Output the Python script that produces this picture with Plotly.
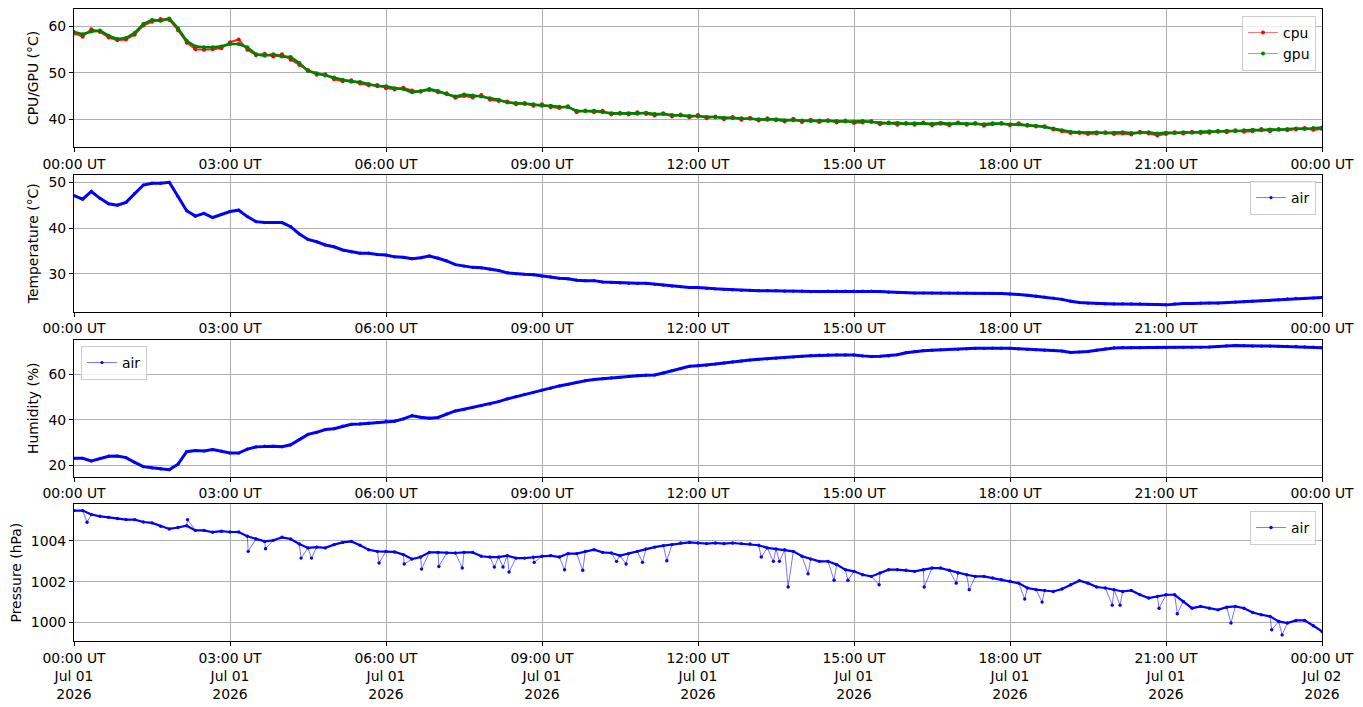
import pandas as pd
import plotly.graph_objects as go
from plotly.subplots import make_subplots

# --- data: 10-minute samples from 2026-07-01 00:00 UT to 2026-07-02 00:00 UT ---
START = "2026-07-01 00:00"
N_SAMPLES = 145

cpu_temp = [
    58.5, 57.8, 59.4, 58.8, 57.6, 57.0,
    57.2, 58.2, 60.2, 61.0, 61.6, 61.4,
    59.2, 56.5, 55.1, 55.0, 55.1, 55.3,
    56.6, 57.2, 55.0, 53.8, 54.1, 53.5,
    54.0, 52.8, 51.7, 50.6, 49.6, 49.7,
    48.6, 48.2, 48.4, 47.7, 47.3, 47.4,
    46.7, 46.4, 46.8, 46.2, 45.9, 46.3,
    45.8, 45.6, 44.6, 45.0, 44.7, 45.2,
    44.2, 43.9, 43.8, 43.2, 43.5, 42.9,
    43.2, 42.6, 42.4, 42.8, 41.5, 41.9,
    41.5, 41.8, 41.0, 41.4, 41.0, 41.5,
    41.1, 40.8, 41.3, 40.6, 41.0, 40.4,
    40.9, 40.2, 40.6, 40.0, 40.5, 39.9,
    40.3, 39.7, 40.2, 39.8, 39.5, 40.1,
    39.4, 39.9, 39.4, 39.8, 39.3, 39.7,
    39.2, 39.3, 39.6, 38.9, 39.3, 38.8,
    39.2, 38.8, 39.3, 38.7, 39.0, 38.7,
    39.3, 38.8, 39.2, 38.6, 38.9, 39.2,
    38.7, 39.1, 38.6, 38.4, 38.5, 37.8,
    37.4, 37.0, 37.0, 36.8, 36.9, 37.2,
    36.8, 36.9, 36.7, 37.3, 36.9, 36.5,
    36.8, 37.2, 36.9, 37.3, 37.0, 37.1,
    37.5, 37.2, 37.6, 37.3, 37.4, 37.9,
    37.4, 37.9, 37.6, 37.8, 38.1, 37.7,
    37.9,
]

gpu_temp = [
    58.8, 58.3, 58.9, 59.1, 58.0, 57.3,
    57.5, 58.6, 60.5, 61.4, 61.2, 61.7,
    59.6, 56.9, 55.7, 55.5, 55.5, 55.7,
    56.2, 56.2, 55.5, 54.0, 53.7, 54.0,
    53.5, 53.4, 52.1, 50.4, 49.9, 49.4,
    49.0, 48.5, 48.1, 48.0, 47.6, 47.1,
    47.1, 46.7, 46.5, 45.8, 46.1, 46.5,
    46.1, 45.4, 44.9, 45.3, 45.1, 44.9,
    44.5, 44.2, 43.6, 43.5, 43.3, 43.2,
    42.9, 42.9, 42.7, 42.6, 41.8, 41.7,
    41.8, 41.5, 41.3, 41.2, 41.3, 41.2,
    41.4, 41.1, 41.1, 40.9, 40.8, 40.7,
    40.6, 40.5, 40.4, 40.3, 40.2, 40.2,
    40.1, 40.0, 39.9, 40.0, 39.8, 39.8,
    39.7, 39.6, 39.7, 39.6, 39.6, 39.5,
    39.5, 39.6, 39.4, 39.2, 39.1, 39.2,
    39.0, 39.1, 39.1, 39.0, 39.2, 39.0,
    39.1, 39.0, 39.0, 38.9, 39.1, 39.0,
    38.9, 38.9, 38.8, 38.6, 38.3, 38.0,
    37.6, 37.3, 37.2, 37.1, 37.2, 37.0,
    37.1, 37.2, 37.0, 37.1, 37.2, 36.9,
    37.1, 37.0, 37.2, 37.1, 37.3, 37.4,
    37.3, 37.5, 37.4, 37.6, 37.7, 37.6,
    37.8, 37.7, 37.9, 38.0, 37.9, 38.1,
    38.2,
]

air_temp = [
    47.1, 46.3, 48.0, 46.5, 45.3, 45.0,
    45.6, 47.6, 49.4, 49.8, 49.8, 50.0,
    46.9, 43.8, 42.6, 43.2, 42.3, 43.0,
    43.6, 43.9, 42.5, 41.4, 41.2, 41.2,
    41.2, 40.3, 38.7, 37.5, 37.0, 36.3,
    35.9, 35.2, 34.8, 34.5, 34.5, 34.2,
    34.1, 33.7, 33.6, 33.3, 33.5, 33.9,
    33.4, 32.8, 32.0, 31.7, 31.4, 31.3,
    31.0, 30.7, 30.2, 30.0, 29.9, 29.8,
    29.5, 29.3, 29.0, 28.9, 28.6, 28.5,
    28.5, 28.2, 28.1, 28.0, 27.9, 27.9,
    27.9, 27.7, 27.5, 27.3, 27.2, 27.0,
    27.0, 26.8, 26.7, 26.6, 26.5, 26.4,
    26.4, 26.3, 26.3, 26.3, 26.2, 26.2,
    26.2, 26.1, 26.1, 26.2, 26.2, 26.2,
    26.2, 26.2, 26.2, 26.1, 26.0, 25.9,
    25.9, 25.8, 25.8, 25.8, 25.8, 25.8,
    25.8, 25.8, 25.7, 25.7, 25.7, 25.7,
    25.6, 25.5, 25.3, 25.1, 24.9, 24.7,
    24.4, 24.0, 23.7, 23.6, 23.5, 23.4,
    23.4, 23.4, 23.4, 23.4, 23.3, 23.3,
    23.2, 23.4, 23.5, 23.5, 23.6, 23.6,
    23.6, 23.7, 23.8, 23.9, 24.0, 24.1,
    24.2, 24.3, 24.5, 24.6, 24.6, 24.7,
    24.8,
]

air_humidity = [
    23.1, 23.1, 21.9, 23.1, 24.0, 24.1,
    23.4, 21.3, 19.4, 18.9, 18.4, 18.1,
    20.5, 26.0, 26.5, 26.3, 26.9, 26.3,
    25.4, 25.4, 27.1, 28.1, 28.4, 28.4,
    28.2, 29.0, 31.3, 33.6, 34.5, 35.7,
    36.1, 37.2, 38.0, 38.2, 38.5, 38.8,
    39.4, 39.4, 40.4, 41.8, 41.1, 40.7,
    41.0, 42.6, 43.9, 44.6, 45.4, 46.2,
    47.0, 48.0, 49.2, 50.2, 51.2, 52.1,
    53.1, 53.9, 54.9, 55.6, 56.5, 57.2,
    57.7, 58.1, 58.4, 58.7, 59.1, 59.4,
    59.6, 59.7, 60.6, 61.6, 62.5, 63.5,
    63.8, 64.0, 64.5, 65.0, 65.5, 65.9,
    66.3, 66.6, 66.8, 67.1, 67.3, 67.6,
    67.9, 68.2, 68.4, 68.5, 68.5, 68.5,
    68.5, 68.1, 67.8, 67.9, 68.1, 68.6,
    69.5, 70.0, 70.4, 70.6, 70.8, 71.0,
    71.0, 71.2, 71.4, 71.4, 71.5, 71.5,
    71.4, 71.2, 71.0, 70.8, 70.6, 70.5,
    70.2, 69.6, 69.8, 70.0, 70.6, 71.2,
    71.6, 71.7, 71.7, 71.7, 71.8, 71.8,
    71.9, 71.9, 71.9, 71.9, 71.9, 72.0,
    72.2, 72.5, 72.7, 72.6, 72.4, 72.4,
    72.4, 72.3, 72.3, 72.3, 72.1, 72.0,
    71.7,
]

air_pressure = [
    1005.49, 1005.49, 1005.30, 1005.21, 1005.16, 1005.10,
    1005.05, 1005.05, 1004.93, 1004.89, 1004.72, 1004.59,
    1004.66, 1004.75, 1004.52, 1004.52, 1004.43, 1004.48,
    1004.44, 1004.44, 1004.23, 1004.10, 1003.98, 1004.03,
    1004.18, 1004.10, 1003.85, 1003.66, 1003.70, 1003.66,
    1003.82, 1003.93, 1003.98, 1003.79, 1003.57, 1003.49,
    1003.49, 1003.46, 1003.33, 1003.11, 1003.21, 1003.44,
    1003.44, 1003.41, 1003.41, 1003.44, 1003.44, 1003.25,
    1003.21, 1003.21, 1003.28, 1003.16, 1003.16, 1003.20,
    1003.25, 1003.28, 1003.21, 1003.38, 1003.38, 1003.49,
    1003.57, 1003.44, 1003.41, 1003.28, 1003.38, 1003.49,
    1003.61, 1003.70, 1003.77, 1003.82, 1003.90, 1003.93,
    1003.90, 1003.87, 1003.90, 1003.87, 1003.90, 1003.87,
    1003.85, 1003.79, 1003.66, 1003.61, 1003.57, 1003.49,
    1003.25, 1003.11, 1003.00, 1003.00, 1002.84, 1002.59,
    1002.51, 1002.34, 1002.26, 1002.43, 1002.59, 1002.59,
    1002.56, 1002.51, 1002.59, 1002.67, 1002.67, 1002.56,
    1002.43, 1002.34, 1002.26, 1002.26, 1002.18, 1002.10,
    1002.02, 1001.93, 1001.69, 1001.61, 1001.57, 1001.52,
    1001.64, 1001.85, 1002.05, 1001.93, 1001.74, 1001.69,
    1001.61, 1001.52, 1001.57, 1001.36, 1001.20, 1001.28,
    1001.36, 1001.36, 1001.03, 1000.70, 1000.79, 1000.70,
    1000.62, 1000.75, 1000.79, 1000.70, 1000.49, 1000.38,
    1000.30, 1000.05, 999.97, 1000.10, 1000.10, 999.84,
    999.56,
]

# single-sample outliers in the pressure record (minutes after start, hPa)
spike_minutes = [
    15, 131, 201, 221, 262, 274, 352, 381, 401, 421, 448, 485, 495, 502,
    531, 566, 587, 626, 637, 656, 684,
    793, 807, 814, 824, 847, 877, 893, 929, 981, 1018, 1033, 1097, 1117,
    1198, 1207, 1252, 1273, 1335, 1382, 1394,
]
spike_values = [
    1004.92, 1005.05, 1003.49, 1003.62, 1003.16, 1003.16, 1002.92, 1002.87,
    1002.62, 1002.75, 1002.67, 1002.72, 1002.72, 1002.48, 1002.95, 1002.59,
    1002.56, 1003.00, 1002.87, 1002.95, 1003.03,
    1003.21, 1003.00, 1003.00, 1001.74, 1002.39, 1002.07, 1002.07, 1001.85,
    1001.74, 1001.93, 1001.61, 1001.15, 1001.00, 1000.85, 1000.85, 1000.70,
    1000.43, 999.97, 999.64, 999.39,
]

tick_hours = [0, 3, 6, 9, 12, 15, 18, 21, 24]
tick_labels = ["00:00 UT", "03:00 UT", "06:00 UT", "09:00 UT", "12:00 UT",
               "15:00 UT", "18:00 UT", "21:00 UT", "00:00 UT"]
tick_dates = ["Jul 01", "Jul 01", "Jul 01", "Jul 01", "Jul 01",
              "Jul 01", "Jul 01", "Jul 01", "Jul 02"]

# --- style ---
FONT = "DejaVu Sans"
FS = 13.9
GRID = "#b0b0b0"

t0 = pd.Timestamp(START)
times = pd.date_range(START, periods=N_SAMPLES, freq="10min")
tick_vals = [t0 + pd.Timedelta(hours=h) for h in tick_hours]

# pressure: regular samples plus outliers, sorted in time
p = pd.DataFrame({"t": list(times) + [t0 + pd.Timedelta(minutes=m) for m in spike_minutes],
                  "v": air_pressure + spike_values}).sort_values("t")

fig = make_subplots(rows=4, cols=1)
domains = [[0.7816, 1.0], [0.5210, 0.7378], [0.2600, 0.4767], [0.0, 0.2163]]


def thin_trace(x, y, color, line_color, name, legend, msize=3.2):
    return go.Scatter(x=x, y=y, mode="lines+markers", name=name, legend=legend,
                      line=dict(color=line_color, width=0.9),
                      marker=dict(color=color, size=msize))


def band_trace(x, y, color, width):
    return go.Scatter(x=x, y=y, mode="lines", showlegend=False, hoverinfo="skip",
                      line=dict(color=color, width=width))


# panel 1: cpu / gpu
fig.add_trace(band_trace(times, cpu_temp, "rgba(255,0,0,0.8)", 2), row=1, col=1)
fig.add_trace(thin_trace(times, cpu_temp, "red", "rgba(255,0,0,0.6)", "cpu", "legend", 4), row=1, col=1)
fig.add_trace(band_trace(times, gpu_temp, "green", 2.6), row=1, col=1)
fig.add_trace(thin_trace(times, gpu_temp, "green", "rgba(0,128,0,0.6)", "gpu", "legend", 4), row=1, col=1)

# panel 2: air temperature
fig.add_trace(band_trace(times, air_temp, "blue", 3), row=2, col=1)
fig.add_trace(thin_trace(times, air_temp, "blue", "rgba(0,0,255,0.6)", "air", "legend2"), row=2, col=1)

# panel 3: humidity
fig.add_trace(band_trace(times, air_humidity, "blue", 3), row=3, col=1)
fig.add_trace(thin_trace(times, air_humidity, "blue", "rgba(0,0,255,0.6)", "air", "legend3"), row=3, col=1)

# panel 4: pressure
fig.add_trace(band_trace(times, air_pressure, "blue", 2.2), row=4, col=1)
fig.add_trace(thin_trace(p["t"], p["v"], "blue", "rgba(0,0,255,0.6)", "air", "legend4", 3.4), row=4, col=1)

y_titles = ["CPU/GPU (°C)", "Temperature (°C)", "Humidity (%)", "Pressure (hPa)"]
y_ranges = [[34.0, 63.76], [21.7, 51.66], [15.0, 75.2], [999.09, 1005.8]]
y_ticks = [[40, 50, 60], [30, 40, 50], [20, 40, 60], [1000, 1002, 1004]]

axis_common = dict(showgrid=True, gridcolor=GRID, gridwidth=1, showline=True, mirror=True,
                   linecolor="black", linewidth=1, ticks="outside", ticklen=4, tickwidth=1,
                   tickcolor="black", zeroline=False, automargin=False,
                   tickfont=dict(family=FONT, size=FS, color="black"))

for i in range(4):
    r = i + 1
    if r == 4:
        text = [f"{a}<br>{d}<br>2026" for a, d in zip(tick_labels, tick_dates)]
    else:
        text = tick_labels
    fig.update_xaxes(range=[t0, t0 + pd.Timedelta(hours=24)], tickmode="array",
                     tickvals=tick_vals, ticktext=text, domain=[0, 1], **axis_common, row=r, col=1)
    fig.update_yaxes(range=y_ranges[i], tickmode="array", tickvals=y_ticks[i], domain=domains[i],
                     title=dict(text=y_titles[i], font=dict(family=FONT, size=FS, color="black"), standoff=6),
                     **axis_common, row=r, col=1)

legend_common = dict(bgcolor="rgba(255,255,255,0.8)", bordercolor="#cccccc", borderwidth=1,
                     font=dict(family=FONT, size=FS, color="black"), itemwidth=30,
                     tracegroupgap=2)

# the page puts the figure 8 px in from the top-left corner
fig.update_layout(
    width=1355, height=699,
    margin=dict(l=66, r=41, t=1, b=66),
    paper_bgcolor="white", plot_bgcolor="white",
    font=dict(family=FONT, size=FS, color="black"),
    legend=dict(x=0.9952, y=0.989, xanchor="right", yanchor="top", **legend_common),
    legend2=dict(x=0.9952, y=0.7278, xanchor="right", yanchor="top", **legend_common),
    legend3=dict(x=0.0056, y=0.4668, xanchor="left", yanchor="top", **legend_common),
    legend4=dict(x=0.9952, y=0.2057, xanchor="right", yanchor="top", **legend_common),
)

fig.write_html("out.html")
